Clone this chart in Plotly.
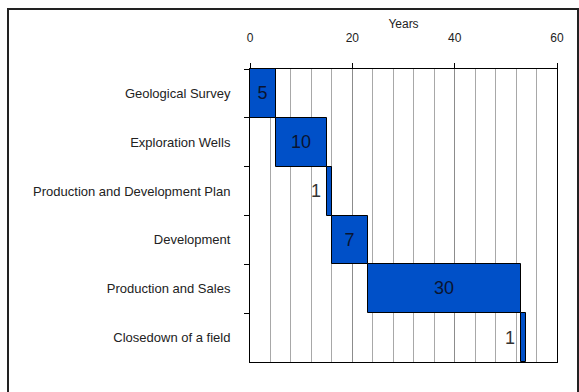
import plotly.graph_objects as go

# Oil field life-cycle phases (years)
phases = [
    "Geological Survey",
    "Exploration Wells",
    "Production and Development Plan",
    "Development",
    "Production and Sales",
    "Closedown of a field",
]
start_years = [0, 5, 15, 16, 23, 53]
durations = [5, 10, 1, 7, 30, 1]
x_ticks = [0, 20, 40, 60]

W, H = 579, 392
L, R, T, B = 250, 22, 69, 30
pw, ph = W - L - R, H - T - B

bar_color = "#0050c8"
font_family = "Liberation Sans, Arial, sans-serif"

# durations wide enough for an inside label; short phases get a label beside the bar
inside_text = [str(d) if d > 2 else "" for d in durations]

fig = go.Figure()
fig.add_trace(go.Bar(
    y=phases,
    x=durations,
    base=start_years,
    orientation="h",
    marker=dict(color=bar_color, line=dict(color="#000000", width=1)),
    text=inside_text,
    textposition="inside",
    insidetextanchor="middle",
    textfont=dict(family=font_family, size=18, color="#0a1430"),
    width=1.0,
    hoverinfo="skip",
))

for ph_name, s, d in zip(phases, start_years, durations):
    if d <= 2:
        fig.add_annotation(
            x=s, y=ph_name, xref="x", yref="y",
            text=str(d), showarrow=False,
            xanchor="right", xshift=-4,
            font=dict(family=font_family, size=18, color="#333333"),
        )

# outer frame around the whole chart
def px_x(p):
    return (p - L) / pw

def px_y(p):
    return 1 - (p - T) / ph

fig.add_shape(
    type="rect", xref="paper", yref="paper",
    x0=px_x(8), x1=px_x(578), y0=px_y(420), y1=px_y(9),
    line=dict(color="#222222", width=2), fillcolor="rgba(0,0,0,0)",
    layer="above",
)

fig.update_layout(
    width=W, height=H,
    margin=dict(l=L, r=R, t=T, b=B),
    paper_bgcolor="white",
    plot_bgcolor="white",
    showlegend=False,
    bargap=0,
    font=dict(family=font_family, size=12, color="#222222"),
    xaxis=dict(
        side="top",
        range=[0, 60],
        tickvals=x_ticks,
        ticks="outside", ticklen=5, tickcolor="#000000",
        ticklabelstandoff=16,
        tickfont=dict(size=12, color="#222222"),
        showgrid=True, gridcolor="#8c8c8c", gridwidth=1,
        minor=dict(dtick=4, tick0=0, showgrid=True, gridcolor="#a8a8a8", gridwidth=1),
        showline=True, linecolor="#000000", linewidth=1, mirror=True,
        zeroline=False,
        title=dict(text="Years", font=dict(size=12, color="#222222"), standoff=0),
        fixedrange=True,
    ),
    yaxis=dict(
        categoryorder="array", categoryarray=phases,
        autorange="reversed",
        tickson="boundaries",
        ticks="outside", ticklen=5, tickcolor="#000000",
        ticklabelstandoff=16,
        tickfont=dict(size=13, color="#222222"),
        showgrid=False,
        showline=True, linecolor="#000000", linewidth=1, mirror=True,
        fixedrange=True,
    ),
)

fig.write_html("out.html")
